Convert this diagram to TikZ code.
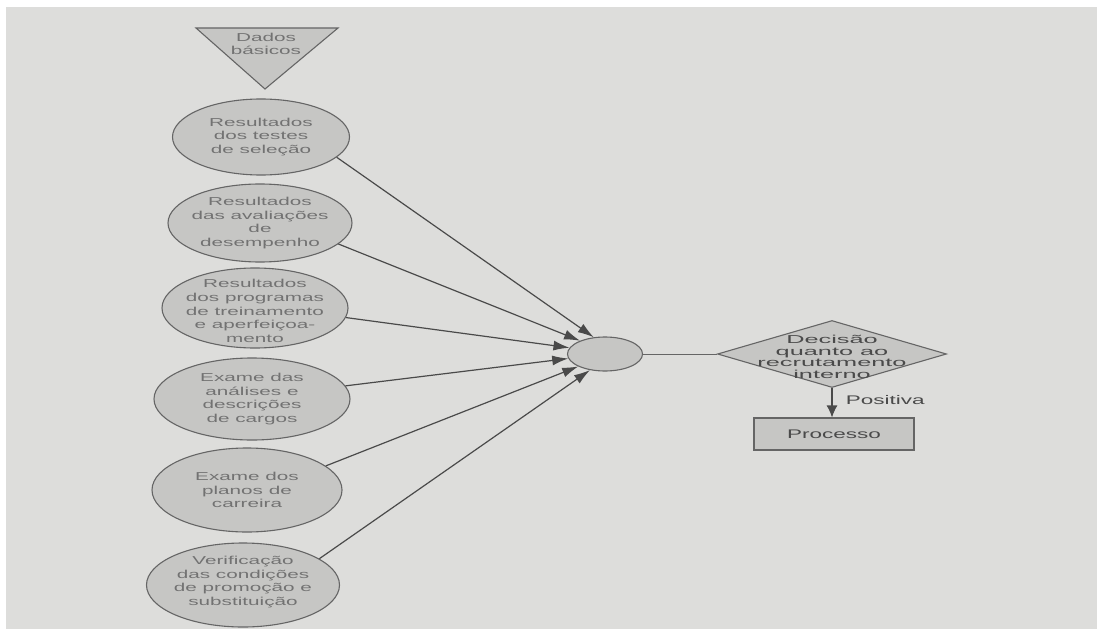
\documentclass[tikz,border=0pt]{standalone}
\usepackage{fontspec}
\setmainfont{Liberation Sans}
\newfontfamily\fonteetapa{Liberation Sans}[FakeStretch=1.8]
\newfontfamily\fontedecisao{Liberation Sans}[FakeStretch=2.2]
\usepackage{tikz}
\usetikzlibrary{arrows.meta,shapes.geometric}
\definecolor{fundo}{HTML}{DDDDDB}
\definecolor{preenche}{HTML}{C6C6C4}
\definecolor{contorno}{HTML}{656565}
\definecolor{textoclaro}{HTML}{727272}
\definecolor{textoescuro}{HTML}{4A4A4A}
\tikzset{
  etapa/.style={draw=contorno, fill=preenche, ellipse, line width=1.1pt, inner sep=0pt},
  etapatexto/.style={align=center, text=textoclaro, inner sep=0pt, font={\fonteetapa\fontsize{11.5}{13.6}\selectfont}},
  triangulo/.style={draw=contorno, fill=preenche, line width=1.1pt, line join=miter},
  juncaobox/.style={draw=contorno, fill=preenche, ellipse, line width=1.1pt, inner sep=0pt, minimum width=75pt, minimum height=34pt},
  decisaobox/.style={draw=contorno, fill=preenche, diamond, line width=1.1pt, inner sep=0pt, minimum width=229pt, minimum height=67pt},
  decisaotexto/.style={align=center, text=textoescuro, inner sep=0pt, font={\fontedecisao\fontsize{11.5}{11.6}\selectfont}},
  processobox/.style={draw=contorno, fill=preenche, line width=1.1pt, minimum width=160pt, minimum height=32pt, inner sep=0pt, text=textoescuro, font={\fonteetapa\fontsize{12.5}{14}\selectfont}},
  rotulo/.style={text=textoescuro, font={\fonteetapa\fontsize{12.5}{14}\selectfont}},
  fluxo/.style={-{Latex[length=16pt,width=10pt]}, draw=textoescuro, line width=1.2pt},
  ligacao/.style={draw=contorno, line width=1pt}
}

\begin{document}
\begin{tikzpicture}[x=1pt,y=-1pt]
\fill[white] (0,0) rectangle (1097,631);
\useasboundingbox (0,0) rectangle (1097,631);
\fill[fundo] (6,7) rectangle (1097,629);
% dados basicos
\draw[triangulo] (196,28) -- (338,28) -- (265,89) -- cycle;
\node[etapatexto] (dados) at (266,44) {Dados\\básicos};
% etapas
\node[etapa, minimum width=177pt, minimum height=76pt] (testes) at (261,137) {};
\node[etapatexto] (testes-txt) at (testes) {Resultados\\dos testes\\de seleção};
\node[etapa, minimum width=184pt, minimum height=78pt] (avaliacoes) at (260,223) {};
\node[etapatexto] (avaliacoes-txt) at (avaliacoes) {Resultados\\das avaliações\\de\\desempenho};
\node[etapa, minimum width=186pt, minimum height=80pt] (treinamento) at (255,308) {};
\node[etapatexto] (treinamento-txt) at (255,311) {Resultados\\dos programas\\de treinamento\\e aperfeiçoa-\\mento};
\node[etapa, minimum width=196pt, minimum height=82pt] (cargos) at (252,399) {};
\node[etapatexto] (cargos-txt) at (cargos) {Exame das\\análises e\\descrições\\de cargos};
\node[etapa, minimum width=190pt, minimum height=84pt] (carreira) at (247,490) {};
\node[etapatexto] (carreira-txt) at (carreira) {Exame dos\\planos de\\carreira};
\node[etapa, minimum width=193pt, minimum height=84pt] (promocao) at (243,585) {};
\node[etapatexto] (promocao-txt) at (243,582) {Verificação\\das condições\\de promoção e\\substituição};
% juncao e decisao
\node[juncaobox] (juncao) at (605,354) {};
\node[decisaobox] (decisao) at (832,354) {};
\node[decisaotexto] (decisao-txt) at (832,357) {Decisão\\quanto ao\\recrutamento\\interno};
\node[processobox] (processo) at (834,434) {Processo};
\foreach \origem/\saida/\chegada in {testes/-15/124, avaliacoes/-15/152, treinamento/-6/170, cargos/8/187, carreira/17/205, promocao/19/227}
  \draw[fluxo] (\origem.\saida) -- (juncao.\chegada);
\draw[ligacao] (juncao.east) -- (decisao.west);
\draw[fluxo, -{Latex[length=12pt,width=11pt]}] (decisao.south) -- node[rotulo, right, pos=0.4, xshift=10pt] {Positiva} (decisao.south |- processo.north);
\end{tikzpicture}
\end{document}
